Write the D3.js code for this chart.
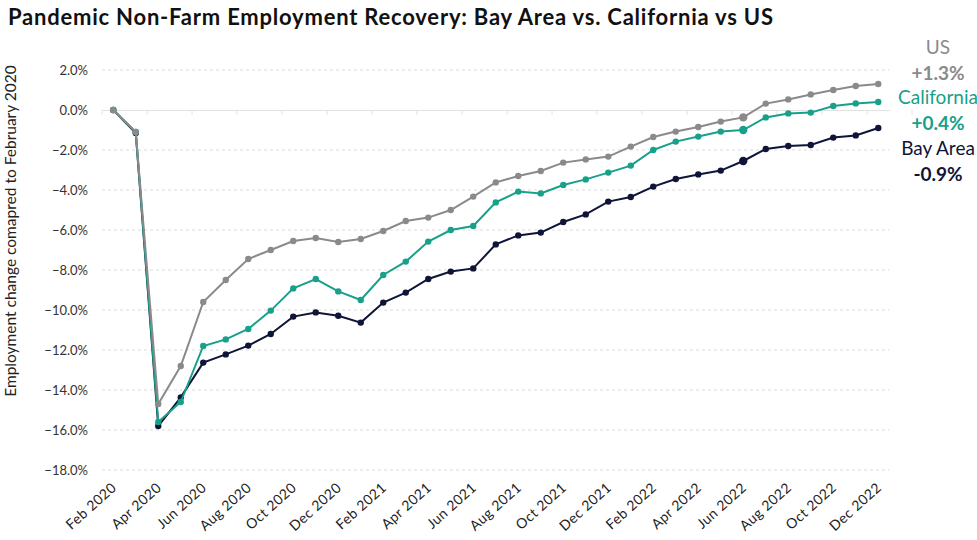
<!DOCTYPE html>
<html>
<head>
<meta charset="utf-8">
<script src="https://cdn.jsdelivr.net/npm/d3@7"></script>
<style>
  html, body { margin: 0; padding: 0; background: #fff; }
  svg { display: block; font-family: Lato, "Open Sans", sans-serif; }
</style>
</head>
<body>
<svg id="chart" width="977" height="540"></svg>
<script>
// Months from Feb 2020 to Dec 2022
const months = [
  "Feb 2020","Mar 2020","Apr 2020","May 2020","Jun 2020","Jul 2020","Aug 2020","Sep 2020","Oct 2020","Nov 2020","Dec 2020",
  "Jan 2021","Feb 2021","Mar 2021","Apr 2021","May 2021","Jun 2021","Jul 2021","Aug 2021","Sep 2021","Oct 2021","Nov 2021","Dec 2021",
  "Jan 2022","Feb 2022","Mar 2022","Apr 2022","May 2022","Jun 2022","Jul 2022","Aug 2022","Sep 2022","Oct 2022","Nov 2022","Dec 2022"
];

// Employment change vs Feb 2020, percent
const usValues = [
  0.0, -1.1, -14.7, -12.8, -9.6, -8.5, -7.45, -7.0, -6.55, -6.4, -6.6,
  -6.45, -6.05, -5.55, -5.38, -5.0, -4.33, -3.62, -3.3, -3.05, -2.63, -2.47, -2.33,
  -1.83, -1.35, -1.08, -0.85, -0.58, -0.37, 0.32, 0.53, 0.78, 1.0, 1.2, 1.3
];
const caValues = [
  0.0, -1.1, -15.6, -14.6, -11.8, -11.47, -10.95, -10.03, -8.92, -8.45, -9.07,
  -9.5, -8.25, -7.58, -6.58, -6.0, -5.8, -4.62, -4.08, -4.17, -3.75, -3.47, -3.13,
  -2.78, -2.0, -1.58, -1.33, -1.08, -1.0, -0.37, -0.17, -0.13, 0.2, 0.33, 0.4
];
const bayValues = [
  0.0, -1.15, -15.8, -14.37, -12.63, -12.22, -11.78, -11.2, -10.33, -10.12, -10.29,
  -10.63, -9.63, -9.13, -8.45, -8.08, -7.92, -6.72, -6.27, -6.13, -5.6, -5.22, -4.58,
  -4.35, -3.83, -3.45, -3.22, -3.03, -2.55, -1.95, -1.8, -1.75, -1.38, -1.27, -0.9
];

const yTicks = [2, 0, -2, -4, -6, -8, -10, -12, -14, -16, -18];
const seriesNames = ["US", "California", "Bay Area"];
const seriesLabels = ["+1.3%", "+0.4%", "-0.9%"];

const colors = { "US": "#8a8a8a", "California": "#17a08a", "Bay Area": "#0e1538" };

const series = [
  { name: "Bay Area", values: bayValues },
  { name: "California", values: caValues },
  { name: "US", values: usValues }
];

const svg = d3.select("#chart");

const x = d3.scaleBand().domain(months).range([102, 889.5]).paddingInner(0).paddingOuter(0);
const cx = d => x(d) + x.bandwidth() / 2;
const y = d3.scaleLinear().domain([-18, 2]).range([470, 70]);

// Title
svg.append("text")
  .attr("x", 8).attr("y", 25)
  .attr("font-size", 22).attr("font-weight", 700).attr("fill", "#111")
  .attr("textLength", 765).attr("lengthAdjust", "spacing")
  .text("Pandemic Non-Farm Employment Recovery: Bay Area vs. California vs US");

// Gridlines
svg.append("g")
  .selectAll("line")
  .data(yTicks.filter(t => t !== 0))
  .join("line")
  .attr("x1", 102).attr("x2", 889.5)
  .attr("y1", d => y(d)).attr("y2", d => y(d))
  .attr("stroke", "#dcdcdc").attr("stroke-width", 1)
  .attr("stroke-dasharray", "3,3");

// Y axis labels
const yAxis = d3.axisLeft(y).tickValues(yTicks).tickSize(0).tickPadding(0)
  .tickFormat(d => d3.format(".1f")(d) + "%");
svg.append("g")
  .attr("transform", "translate(88,0)")
  .call(yAxis)
  .call(g => g.select(".domain").remove())
  .call(g => g.selectAll("text")
    .attr("font-family", "Lato, sans-serif")
    .attr("font-size", 13).attr("fill", "#333"));

// Zero line with category tick marks
const xAxis = d3.axisBottom(x).tickValues([]).tickSizeOuter(0);
svg.append("g")
  .attr("transform", `translate(0,${y(0)})`)
  .call(xAxis)
  .call(g => g.select(".domain").attr("stroke", "#e2e2e2"));
svg.append("g")
  .selectAll("line")
  .data(months.filter((m, i) => i % 2 === 0).concat(["end"]))
  .join("line")
  .attr("x1", (d, i) => 102 + i * 2 * x.bandwidth())
  .attr("x2", (d, i) => 102 + i * 2 * x.bandwidth())
  .attr("y1", y(0)).attr("y2", y(0) + 5)
  .attr("stroke", "#e2e2e2");

// X labels
svg.append("g")
  .selectAll("text")
  .data(months.filter((m, i) => i % 2 === 0))
  .join("text")
  .attr("transform", d => `translate(${cx(d) + 4},${489}) rotate(-42)`)
  .attr("text-anchor", "end")
  .attr("font-size", 14).attr("letter-spacing", 0.4).attr("fill", "#222")
  .text(d => d);

// Y axis title
svg.append("text")
  .attr("transform", "translate(16,231) rotate(-90)")
  .attr("text-anchor", "middle")
  .attr("font-size", 15.5).attr("fill", "#222")
  .text("Employment change comapred to February 2020");

// Lines and markers
const line = d3.line().x((d, i) => cx(months[i])).y(d => y(d));
series.forEach(s => {
  const g = svg.append("g");
  g.append("path")
    .datum(s.values)
    .attr("d", line)
    .attr("fill", "none")
    .attr("stroke", colors[s.name])
    .attr("stroke-width", 2);
  g.selectAll("circle")
    .data(s.values)
    .join("circle")
    .attr("cx", (d, i) => cx(months[i]))
    .attr("cy", d => y(d))
    .attr("r", (d, i) => months[i] === "Jun 2022" ? 4.2 : 3.2)
    .attr("fill", colors[s.name]);
});

// End labels
const labelY = [[47, 73], [97, 123], [148, 174]];
seriesNames.forEach((n, i) => {
  svg.append("text")
    .attr("x", 938).attr("y", labelY[i][0] + 6.5)
    .attr("text-anchor", "middle")
    .attr("font-size", 19).attr("fill", colors[n])
    .text(n);
  svg.append("text")
    .attr("x", 938).attr("y", labelY[i][1] + 6.5)
    .attr("text-anchor", "middle")
    .attr("font-size", 19).attr("font-weight", 700).attr("fill", colors[n])
    .text(seriesLabels[i]);
});
</script>
</body>
</html>
